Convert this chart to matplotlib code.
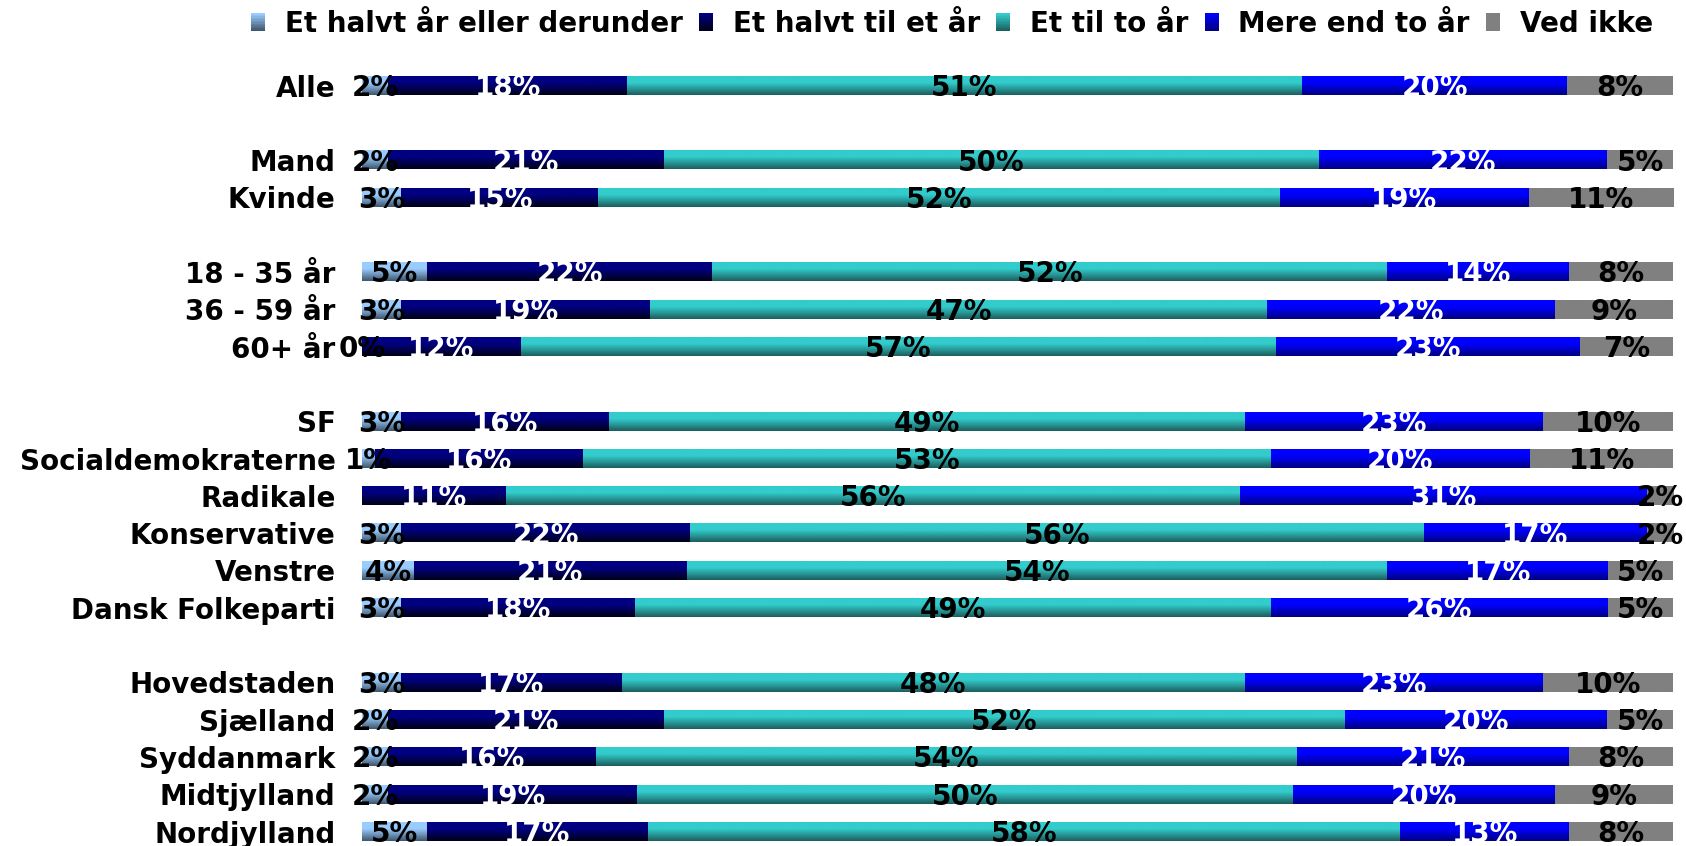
import numpy as np
import matplotlib
matplotlib.use("Agg")
import matplotlib.pyplot as plt
from matplotlib.colors import LinearSegmentedColormap, to_rgb
from matplotlib.legend_handler import HandlerBase
from matplotlib.patches import Rectangle

nan = np.nan

# ---- data ----
groups = [
    ["Alle"],
    ["Mand", "Kvinde"],
    ["18 - 35 år", "36 - 59 år", "60+ år"],
    ["SF", "Socialdemokraterne", "Radikale", "Konservative", "Venstre", "Dansk Folkeparti"],
    ["Hovedstaden", "Sjælland", "Syddanmark", "Midtjylland", "Nordjylland"],
]
series_names = ["Et halvt år eller derunder", "Et halvt til et år", "Et til to år",
                "Mere end to år", "Ved ikke"]

halvt_aar_eller_under = [2, 2, 3, 5, 3, 0, 3, 1, nan, 3, 4, 3, 3, 2, 2, 2, 5]
halvt_til_et_aar      = [18, 21, 15, 22, 19, 12, 16, 16, 11, 22, 21, 18, 17, 21, 16, 19, 17]
et_til_to_aar         = [51, 50, 52, 52, 47, 57, 49, 53, 56, 56, 54, 49, 48, 52, 54, 50, 58]
mere_end_to_aar       = [20, 22, 19, 14, 22, 23, 23, 20, 31, 17, 17, 26, 23, 20, 21, 20, 13]
ved_ikke              = [8, 5, 11, 8, 9, 7, 10, 11, 2, 2, 5, 5, 10, 5, 8, 9, 8]

# ---- styles ----
grad_top = ["#99CCFF", "#000080", "#33CCCC", "#0000FF", "#808080"]
grad_bot = ["#3E566C", "#00001A", "#1C5E5E", "#000080", "#808080"]
label_colors = ["black", "white", "black", "white", "black"]

FONT = "DejaVu Sans"
FS = 20

categories = [c for g in groups for c in g]
ypos = []
slot = 0
for g in groups:
    for _ in g:
        ypos.append(slot)
        slot += 1
    slot += 1
ypos = np.array(ypos, dtype=float)
nslots = slot - 1

data = np.array([halvt_aar_eller_under, halvt_til_et_aar, et_til_to_aar,
                 mere_end_to_aar, ved_ikke], dtype=float)
vals = np.nan_to_num(data)
totals = vals.sum(axis=0)
shares = vals / totals * 100.0

fig = plt.figure(figsize=(16.86, 8.46), dpi=100)
ax_left, ax_right = 362 / 1686, 1673 / 1686
top_px = 85.5 - 37.3 / 2
ax_h_px = 37.3 * nslots
ax_bottom = 1 - (top_px + ax_h_px) / 846
ax = fig.add_axes([ax_left, ax_bottom, ax_right - ax_left, ax_h_px / 846])

bar_h = 0.5
grad = np.linspace(0, 1, 64).reshape(-1, 1)
left = np.zeros(len(categories))
for i in range(5):
    cmap = LinearSegmentedColormap.from_list(
        f"g{i}", [(0.0, grad_top[i]), (0.35, grad_top[i]), (1.0, grad_bot[i])])
    bars = ax.barh(ypos, shares[i], left=left, height=bar_h,
                   color=grad_top[i], edgecolor="none", linewidth=0, zorder=1)
    for rect in bars:
        x, y = rect.get_x(), rect.get_y()
        w, h = rect.get_width(), rect.get_height()
        if w <= 0:
            continue
        ax.imshow(grad, cmap=cmap, extent=(x, x + w, y + h, y), aspect="auto",
                  origin="upper", interpolation="bilinear", zorder=2)
    for j, rect in enumerate(bars):
        v = data[i, j]
        if np.isnan(v):
            continue
        cx = rect.get_x() + rect.get_width() / 2
        ax.text(cx, ypos[j] + bar_h / 2 + 0.03, f"{int(v)}%", ha="center", va="baseline",
                color=label_colors[i], fontsize=FS, fontweight="bold", family=FONT,
                zorder=5)
    left = left + shares[i]

ax.set_xlim(0, 100)
ax.set_ylim(nslots - 0.5, -0.5)
ax.set_yticks(ypos)
ax.set_yticklabels(categories, fontsize=FS, fontweight="bold", family=FONT)
ax.tick_params(axis="y", length=0, pad=19)
ax.tick_params(axis="x", length=0, labelbottom=False)
for s in ax.spines.values():
    s.set_visible(False)
ax.set_facecolor("none")


class GradHandler(HandlerBase):
    def __init__(self, top, bottom):
        super().__init__()
        self.top = np.array(to_rgb(top))
        self.bottom = np.array(to_rgb(bottom))

    def create_artists(self, legend, orig_handle, xdescent, ydescent, width, height,
                       fontsize, trans):
        n = 12
        arts = []
        for k in range(n):
            t = k / (n - 1)
            c = self.bottom * (1 - t) + self.top * t
            r = Rectangle((-xdescent, -ydescent + k * height / n), width, height / n * 1.08,
                          facecolor=c, edgecolor="none", transform=trans)
            arts.append(r)
        return arts


handles = [Rectangle((0, 0), 1, 1, facecolor=grad_top[i]) for i in range(5)]
handler_map = {handles[i]: GradHandler(grad_top[i], grad_bot[i]) for i in range(5)}
fig.legend(handles, series_names, handler_map=handler_map, loc="center",
           bbox_to_anchor=(952 / 1686, 1 - 24 / 846), ncol=5, frameon=False,
           handlelength=0.5, handleheight=0.6, handletextpad=0.7, columnspacing=0.6,
           prop={"family": FONT, "weight": "bold", "size": FS})

fig.savefig("out.png", dpi=100)
